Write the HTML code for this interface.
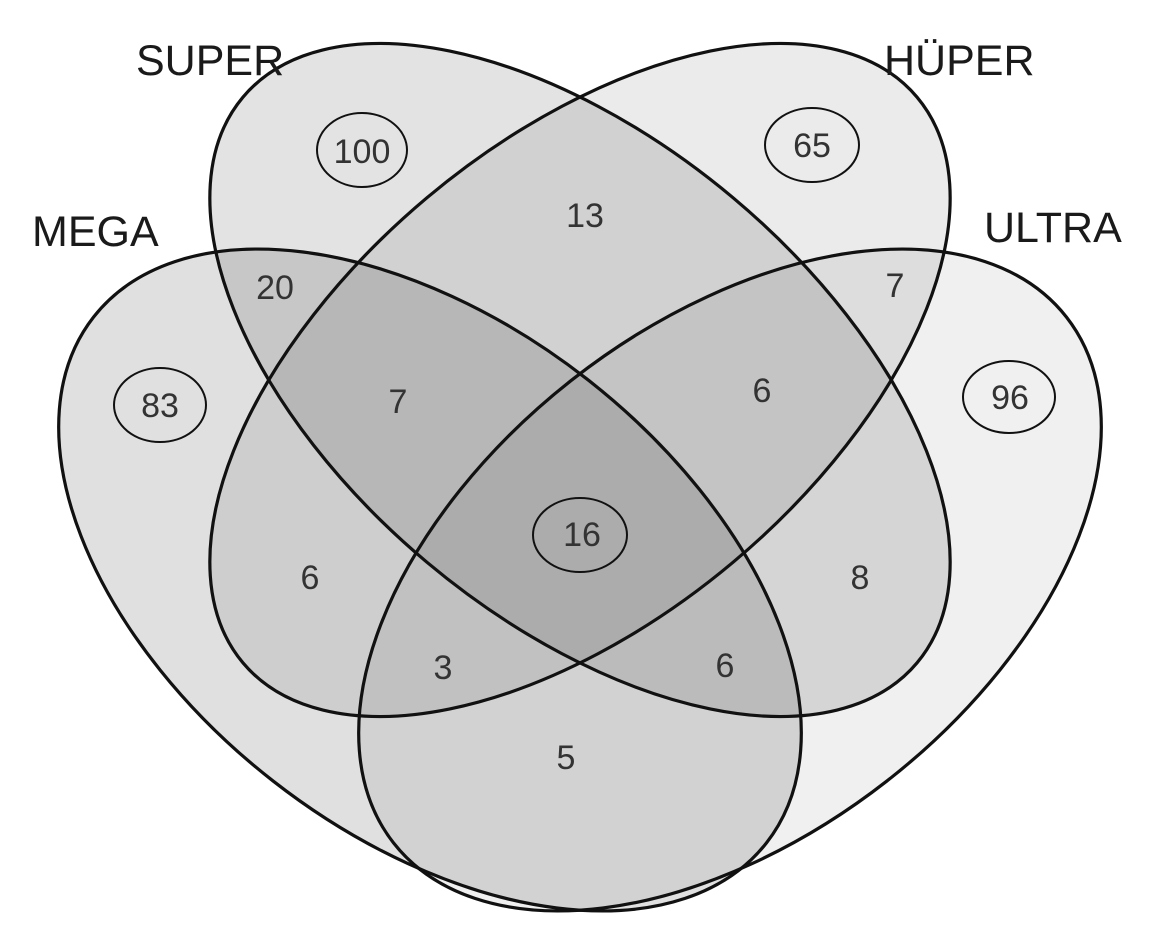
<!DOCTYPE html>
<html><head><meta charset="utf-8"><style>
html,body{margin:0;padding:0;background:#fff;overflow:hidden;width:1162px;height:951px;}
svg{display:block;}
text{font-family:"Liberation Sans",sans-serif;}
.n{font-size:34px;fill:#333;text-anchor:middle;dominant-baseline:central;}
.l{font-size:43px;fill:#1a1a1a;}
</style></head><body>
<svg width="1162" height="951" viewBox="0 0 1162 951" xmlns="http://www.w3.org/2000/svg">
<rect width="1162" height="951" fill="#fff"/>
<g fill="#000" stroke="none">
<ellipse fill-opacity="0.12" cx="430" cy="580" rx="427" ry="255" transform="rotate(38 430 580)"/>
<ellipse fill-opacity="0.06" cx="730" cy="580" rx="427" ry="255" transform="rotate(-38 730 580)"/>
<ellipse fill-opacity="0.11" cx="580" cy="380" rx="440" ry="238" transform="rotate(40 580 380)"/>
<ellipse fill-opacity="0.08" cx="580" cy="380" rx="440" ry="238" transform="rotate(-40 580 380)"/>
</g>
<g fill="none" stroke="#111" stroke-width="3.2">
<ellipse cx="430" cy="580" rx="427" ry="255" transform="rotate(38 430 580)"/>
<ellipse cx="730" cy="580" rx="427" ry="255" transform="rotate(-38 730 580)"/>
<ellipse cx="580" cy="380" rx="440" ry="238" transform="rotate(40 580 380)"/>
<ellipse cx="580" cy="380" rx="440" ry="238" transform="rotate(-40 580 380)"/>
</g>
<g fill="none" stroke="#111" stroke-width="2">
<ellipse cx="362" cy="150" rx="45" ry="37"/>
<ellipse cx="812" cy="145" rx="47" ry="37"/>
<ellipse cx="160" cy="405" rx="46" ry="37"/>
<ellipse cx="1009" cy="397" rx="46" ry="36"/>
<ellipse cx="580" cy="535" rx="47" ry="37"/>
</g>
<text class="l" x="136" y="75">SUPER</text>
<text class="l" x="884" y="75">HÜPER</text>
<text class="l" x="32" y="246">MEGA</text>
<text class="l" x="984" y="242">ULTRA</text>
<text class="n" x="362" y="152">100</text>
<text class="n" x="812" y="146">65</text>
<text class="n" x="160" y="406">83</text>
<text class="n" x="1010" y="398">96</text>
<text class="n" x="582" y="535">16</text>
<text class="n" x="585" y="216">13</text>
<text class="n" x="275" y="288">20</text>
<text class="n" x="398" y="402">7</text>
<text class="n" x="895" y="286">7</text>
<text class="n" x="762" y="391">6</text>
<text class="n" x="310" y="578">6</text>
<text class="n" x="860" y="578">8</text>
<text class="n" x="443" y="668">3</text>
<text class="n" x="725" y="666">6</text>
<text class="n" x="566" y="758">5</text>
</svg>
</body></html>
